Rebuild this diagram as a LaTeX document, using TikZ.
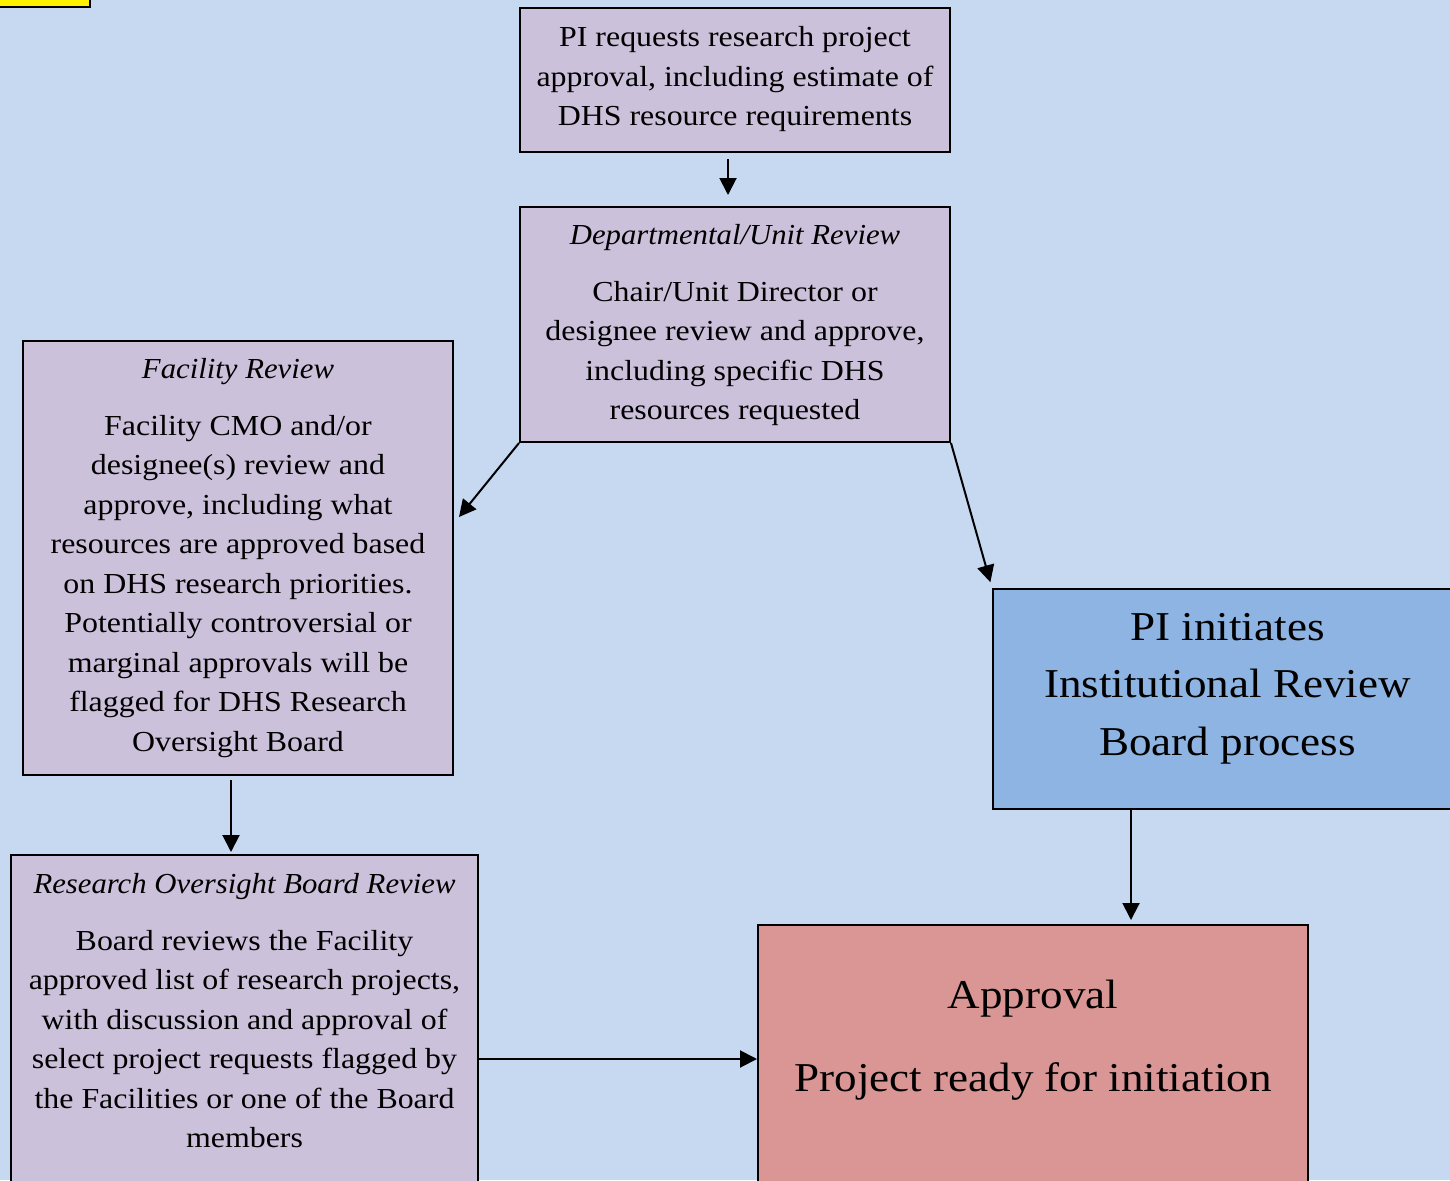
\documentclass[tikz,border=0pt]{standalone}
\usepackage{fontspec}
\setmainfont{Liberation Serif}[FakeStretch=1.1,ItalicFeatures={FakeStretch=1.06}]
\usetikzlibrary{arrows.meta}
\definecolor{bgblue}{HTML}{C6D9F1}
\definecolor{lavender}{HTML}{CCC1DA}
\definecolor{irbblue}{HTML}{8EB4E3}
\definecolor{apprred}{HTML}{D99694}
\newcommand{\boxbody}[4]{\parbox[t][#2][t]{#1}{\centering\vspace*{#3}\strut #4}}
\newcommand{\smalltext}{\fontsize{29}{39.5}\selectfont}
\newcommand{\bigtext}{\fontsize{41}{57.5}\selectfont}
\begin{document}
\begin{tikzpicture}[x=1pt,y=-1pt,
    box/.style={draw,line width=2pt,inner sep=0pt,anchor=north west,font=\smalltext},
    arr/.style={line width=2pt,-{Triangle[length=17pt,width=17pt]}}]
        \useasboundingbox (0,0) rectangle (1450,1180);
        \fill[bgblue] (0,0) rectangle (1450,1180);
        \draw[line width=2pt,fill=yellow] (-5,-5) rectangle (90,7);
        \node[box,fill=lavender] (req) at (519,7) {\boxbody{430pt}{144pt}{11.35pt}{PI requests research project\\approval, including estimate of\\DHS resource requirements}};
        \node[box,fill=lavender] (dept) at (519,206) {\boxbody{430pt}{235pt}{9.35pt}{\textit{Departmental/Unit Review}\\[17.5pt]Chair/Unit Director or\\designee review and approve,\\including specific DHS\\resources requested}};
        \node[box,fill=lavender] (fac) at (22,340) {\boxbody{430pt}{434pt}{9.35pt}{\textit{Facility Review}\\[17.5pt]Facility CMO and/or\\designee(s) review and\\approve, including what\\resources are approved based\\on DHS research priorities.\\Potentially controversial or\\marginal approvals will be\\flagged for DHS Research\\Oversight Board}};
        \node[box,fill=lavender] (rob) at (10,854) {\boxbody{467pt}{408pt}{10.35pt}{\textit{Research Oversight Board Review}\\[17.5pt]Board reviews the Facility\\approved list of research projects,\\with discussion and approval of\\select project requests flagged by\\the Facilities or one of the Board\\members}};
        \node[box,fill=irbblue,font=\bigtext] (irb) at (992,588) {\boxbody{469pt}{220pt}{10.75pt}{PI initiates\\Institutional Review\\Board process}};
        \node[box,fill=apprred,font=\bigtext] (appr) at (757,924) {\boxbody{550pt}{300pt}{42.75pt}{Approval\\[25.5pt]Project ready for initiation}};
        \coordinate (facin) at (459,517);
        \draw[arr,shorten <=6pt,shorten >=11pt] ([xshift=-7pt]req.south) -- ([xshift=-7pt]req.south |- dept.north);
        \draw[arr] (dept.south west) -- (facin);
        \draw[arr,shorten >=6pt] (dept.south east) -- (irb.north west);
        \draw[arr,shorten <=4pt,shorten >=2pt] ([xshift=-7pt]fac.south) -- ([xshift=-7pt]fac.south |- rob.north);
        \draw[arr,shorten >=4pt] ([xshift=-96.5pt]irb.south) -- ([xshift=-96.5pt]irb.south |- appr.north);
        \draw[arr] (rob.east) -- (rob.east -| appr.west);
    \end{tikzpicture}
\end{document}
